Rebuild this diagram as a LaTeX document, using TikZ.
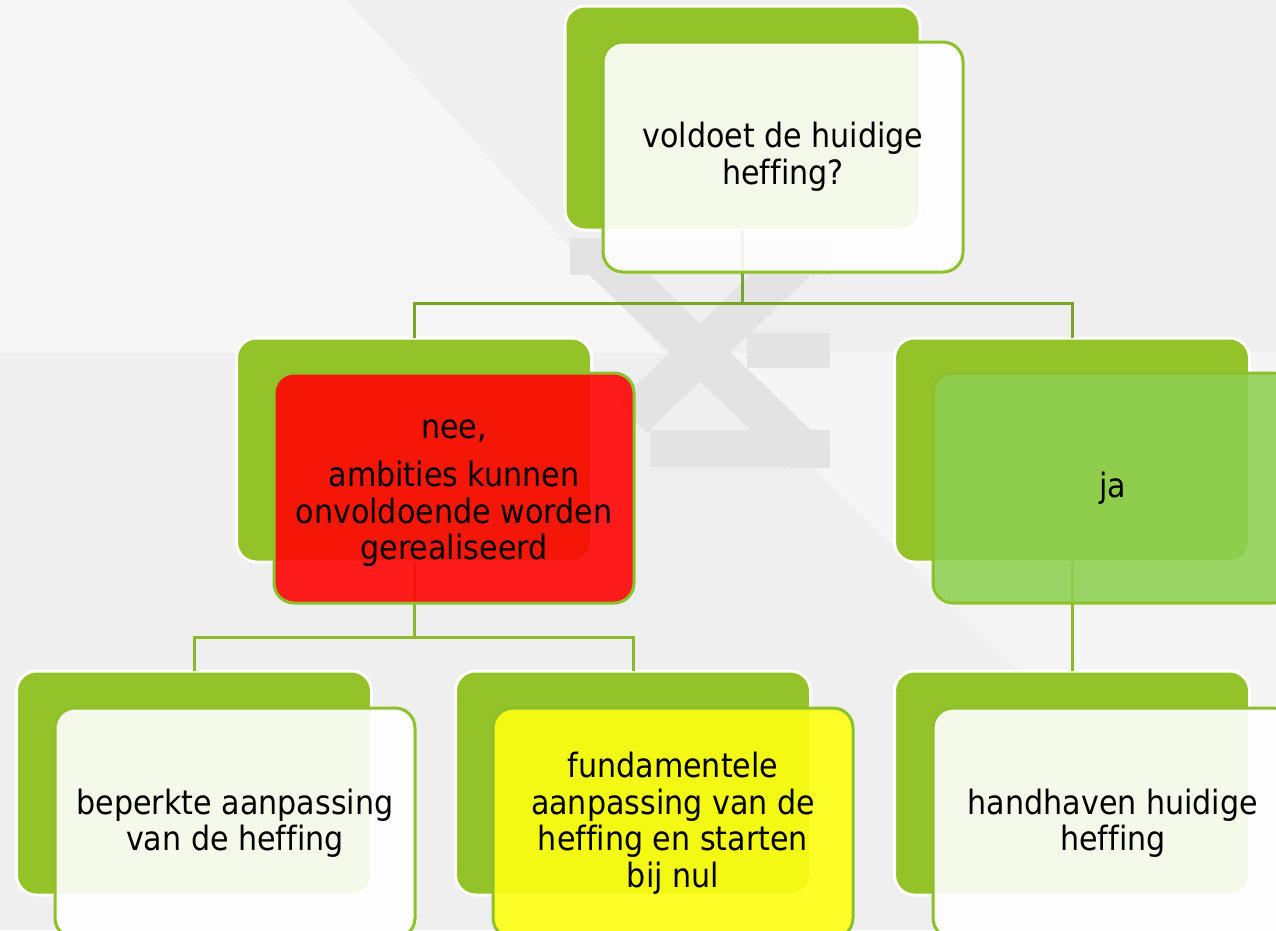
\documentclass[tikz,border=0pt]{standalone}
\usepackage{fontspec}
\setmainfont[Ligatures=NoCommon]{DejaVu Sans Condensed}
\definecolor{gback}{RGB}{147,194,41}
\definecolor{gline}{RGB}{141,192,42}
\definecolor{connA}{RGB}{122,163,42}
\definecolor{connB}{RGB}{138,186,44}
\definecolor{bgA}{RGB}{239,239,239}
\definecolor{bgL}{RGB}{246,246,246}
\definecolor{bgM}{RGB}{245,245,245}
\definecolor{wm}{RGB}{227,227,227}
\definecolor{redf}{RGB}{255,4,4}
\definecolor{yelf}{RGB}{255,255,18}
\definecolor{jaf}{RGB}{142,208,81}
\tikzset{
  backbox/.style={draw=white, line width=3pt, fill=gback, rounded corners=20pt,
    minimum width=355pt, minimum height=224pt, inner sep=0pt, outer sep=0pt},
  frontbox/.style={draw=gline, line width=3pt, rounded corners=20pt,
    minimum width=360pt, minimum height=230pt, inner sep=0pt, outer sep=0pt,
    align=center, text=black, text opacity=1, font=\fontsize{33.5}{36.5}\selectfont},
  whitebox/.style={frontbox, fill=white, fill opacity=0.9},
  redbox/.style={frontbox, fill=redf, fill opacity=0.9},
  yelbox/.style={frontbox, fill=yelf, fill opacity=0.9},
  jabox/.style={frontbox, fill=jaf, fill opacity=0.88},
  linkA/.style={draw=connA, line width=3pt},
  linkB/.style={draw=connB, line width=3pt},
}
\begin{document}
\begin{tikzpicture}[x=1pt,y=-1pt]
\useasboundingbox (0,0) rectangle (1276,930);
\clip (0,0) rectangle (1276,930);
% background
\fill[bgA] (0,0) rectangle (1276,930);
\fill[bgL] (0,0) -- (347,0) -- (665,353) -- (0,353) -- cycle;
\fill[bgM] (698,353) -- (1276,353) -- (1276,925) -- cycle;
% watermark
\begin{scope}
  \clip (570,238) rectangle (830,467);
  \fill[wm] (570,238) rectangle (830,275);
  \fill[wm] (747,333) rectangle (830,368);
  \fill[wm] (650,430) rectangle (830,467);
  \draw[wm, line width=42pt] (570,227) -- (850,497);
  \draw[wm, line width=42pt] (830,227) -- (632,418);
\end{scope}
% back boxes
\node[backbox] (g1) at (742.5,118) {};
\node[backbox] (g2) at (414,450) {};
\node[backbox] (g3) at (1072,450) {};
\node[backbox] (g4) at (194,783) {};
\node[backbox] (g5) at (633,783) {};
\node[backbox] (g6) at (1072,783) {};
% connectors
\coordinate (j1) at (742.5,303);
\coordinate (j2) at (414,637);
\draw[linkA] (g1.south) -- (j1) -| (g2.north);
\draw[linkA] (j1) -| (g3.north);
\draw[linkB] (g2.south) -- (j2) -| (g4.north);
\draw[linkB] (j2) -| (g5.north);
\draw[linkB] (g3.south) -- (g6.north);
% front boxes
\node[whitebox] (f1) at (783,157) {voldoet de huidige\\heffing?};
\node[redbox] (f2) at (454,488) {};
\node[align=center, font=\fontsize{33.5}{36.5}\selectfont, inner sep=0pt] (t2) at (454,493) {nee,\\[12pt]ambities kunnen\\onvoldoende worden\\gerealiseerd};
\node[jabox] (f3) at (1113,488) {ja};
\node[whitebox] (f4) at (235,823) {beperkte aanpassing\\van de heffing};
\node[yelbox] (f5) at (673,823) {fundamentele\\aanpassing van de\\heffing en starten\\bij nul};
\node[whitebox] (f6) at (1113,823) {handhaven huidige\\heffing};
\end{tikzpicture}
\end{document}
